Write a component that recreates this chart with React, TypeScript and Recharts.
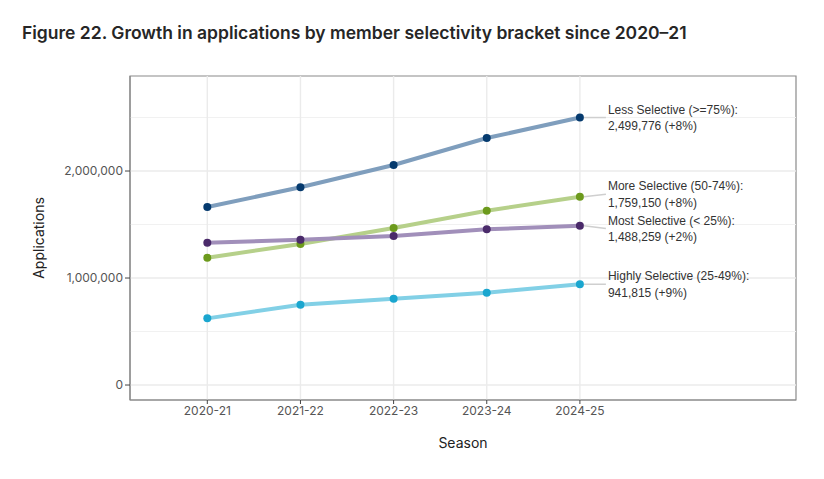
import React from "react";
import {
  LineChart,
  Line,
  XAxis,
  YAxis,
  ReferenceLine,
  ReferenceArea,
  LabelList,
} from "recharts";

const seasons = ["2020-21", "2021-22", "2022-23", "2023-24", "2024-25"];

const lessSelective = [1664000, 1848000, 2056000, 2308000, 2499776];
const moreSelective = [1190000, 1318000, 1467000, 1629000, 1759150];
const mostSelective = [1330000, 1358000, 1393000, 1455000, 1488259];
const highlySelective = [623000, 750000, 807000, 863000, 941815];

const seriesNames = [
  "Less Selective (>=75%):",
  "More Selective (50-74%):",
  "Most Selective (< 25%):",
  "Highly Selective (25-49%):",
];
const seriesChange = ["+8%", "+8%", "+2%", "+9%"];

const yTicks = [0, 1000000, 2000000];
const yMinor = [500000, 1500000, 2500000];

const X_DOMAIN: [number, number] = [0.17, 7.32];
const Y_DOMAIN: [number, number] = [-140000, 2888000];

const data = seasons.map((s, i) => ({
  idx: i + 1,
  season: s,
  less: lessSelective[i],
  more: moreSelective[i],
  most: mostSelective[i],
  highly: highlySelective[i],
}));

const seriesStyle = [
  { key: "less", line: "#7f9ebd", point: "#053a6e", nudge: 0 },
  { key: "more", line: "#b6d08a", point: "#6c9a1c", nudge: -2.6 },
  { key: "most", line: "#a18fba", point: "#4a2a6a", nudge: 2.8 },
  { key: "highly", line: "#82d0e6", point: "#1aa6cf", nudge: 0 },
];

const fmt = (v: number) => v.toLocaleString("en-US");

const makeLabel = (si: number) => (props: any) => {
  const { x, y, index, value } = props;
  if (index !== seasons.length - 1) return null;
  const cy = y + seriesStyle[si].nudge;
  return (
    <g>
      <line x1={x + 4} y1={y} x2={x + 26} y2={cy} stroke="#cfcfcf" strokeWidth={1.5} />
      <text
        x={x + 28}
        y={cy - 8}
        dominantBaseline="central"
        fontFamily="'Liberation Sans', Arial, sans-serif"
        fontSize={12}
        fill="#333"
      >
        {seriesNames[si]}
      </text>
      <text
        x={x + 28}
        y={cy + 8.5}
        dominantBaseline="central"
        fontFamily="'Liberation Sans', Arial, sans-serif"
        fontSize={12}
        fill="#333"
      >
        {`${fmt(value)} (${seriesChange[si]})`}
      </text>
    </g>
  );
};

const YLabel = (props: any) => {
  const { viewBox } = props;
  const cx = 38;
  const cy = viewBox.y + viewBox.height / 2;
  return (
    <text
      x={cx}
      y={cy}
      transform={`rotate(-90 ${cx} ${cy})`}
      textAnchor="middle"
      dominantBaseline="central"
      fontFamily="Inter, sans-serif"
      fontSize={14}
      fill="#222"
    >
      Applications
    </text>
  );
};

export default function App() {
  return (
    <div
      style={{
        position: "absolute",
        left: 0,
        top: 0,
        width: 824,
        height: 479,
        background: "#ffffff",
      }}
    >
      <div
        style={{
          position: "absolute",
          left: 22,
          top: 22,
          fontFamily: "Inter, sans-serif",
          fontWeight: 600,
          fontSize: 17.5,
          color: "#262626",
          whiteSpace: "nowrap",
        }}
      >
        Figure 22. Growth in applications by member selectivity bracket since 2020–21
      </div>
      <div style={{ position: "absolute", left: 0, top: 0 }}>
        <LineChart
          width={824}
          height={479}
          data={data}
          margin={{ top: 76, right: 28, left: 30, bottom: 19 }}
        >
          <XAxis
            dataKey="idx"
            type="number"
            domain={X_DOMAIN}
            ticks={[1, 2, 3, 4, 5]}
            allowDataOverflow
            tickFormatter={(v: number) => seasons[v - 1]}
            height={60}
            tick={{ fontFamily: "Inter, sans-serif", fontSize: 12, fill: "#555" }}
            tickLine={{ stroke: "#444" }}
            tickSize={4}
            axisLine={{ stroke: "#8a8a8a", strokeWidth: 1.2 }}
            label={{
              value: "Season",
              position: "insideBottom",
              offset: 12,
              style: { fontFamily: "Inter, sans-serif", fontSize: 14, fill: "#222" },
            }}
          />
          <YAxis
            type="number"
            domain={Y_DOMAIN}
            ticks={yTicks}
            allowDataOverflow
            width={100}
            tickFormatter={(v: number) => fmt(v)}
            tick={{ fontFamily: "Inter, sans-serif", fontSize: 12, fill: "#555" }}
            tickLine={{ stroke: "#444" }}
            tickSize={5}
            axisLine={{ stroke: "#8a8a8a", strokeWidth: 1.2 }}
            label={<YLabel />}
          />
          {yMinor.map((v) => (
            <ReferenceLine key={"m" + v} y={v} stroke="#f1f1f1" strokeWidth={1} />
          ))}
          {yTicks.map((v) => (
            <ReferenceLine key={"M" + v} y={v} stroke="#ebebeb" strokeWidth={1.4} />
          ))}
          {seasons.map((s, i) => (
            <ReferenceLine key={"v" + s} x={i + 1} stroke="#ebebeb" strokeWidth={1.4} />
          ))}
          <ReferenceArea
            x1={X_DOMAIN[0]}
            x2={X_DOMAIN[1]}
            y1={Y_DOMAIN[0]}
            y2={Y_DOMAIN[1]}
            fill="none"
            stroke="#8a8a8a"
            strokeWidth={1.2}
            ifOverflow="visible"
          />
          {seriesStyle.map((s) => (
            <Line
              key={"l" + s.key}
              dataKey={s.key}
              stroke={s.line}
              strokeWidth={4}
              dot={false}
              activeDot={false}
              isAnimationActive={false}
              type="linear"
            />
          ))}
          {seriesStyle.map((s, si) => (
            <Line
              key={"p" + s.key}
              dataKey={s.key}
              stroke="none"
              dot={{ r: 4, fill: s.point, stroke: "none" }}
              activeDot={false}
              isAnimationActive={false}
              type="linear"
            >
              <LabelList dataKey={s.key} content={makeLabel(si)} />
            </Line>
          ))}
        </LineChart>
      </div>
    </div>
  );
}
